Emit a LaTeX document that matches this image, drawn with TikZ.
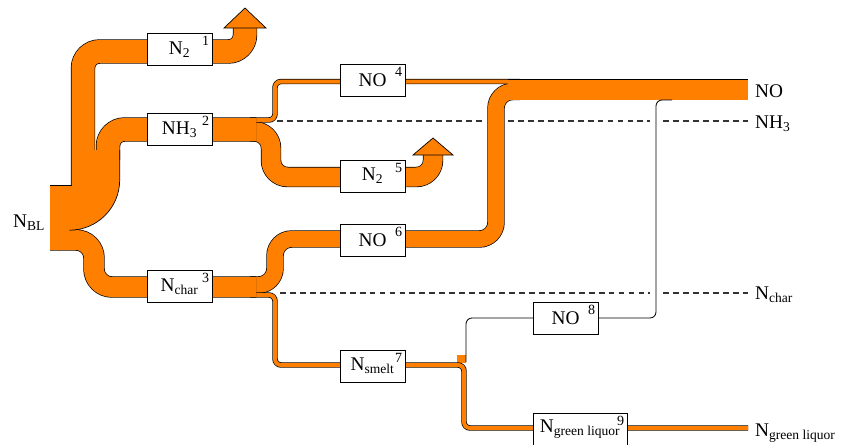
\documentclass[tikz,border=0pt]{standalone}
\usepackage{fontspec}
\setmainfont{Liberation Serif}
\setsansfont{Liberation Serif}
\definecolor{flow}{RGB}{255,128,0}

\begin{document}
\begin{tikzpicture}
        [x=0.03cm, y=-0.03cm,
        box/.style={draw, fill=white, line width=0.5pt, minimum width=1.95cm, minimum height=0.96cm, inner sep=1pt, font=\rmfamily\fontsize{16.5}{18}\selectfont},
        num/.style={font=\rmfamily\fontsize{12}{13}\selectfont, inner sep=2.5pt, anchor=north east},
        band/.style={draw=black, line width=0.6pt, double=flow, double distance=#1, rounded corners=0.5cm},
        flowline/.style={draw=black, line width=0.7pt, rounded corners=0.18cm},
        refline/.style={dash pattern=on 5pt off 3.5pt, draw=black!80, line width=1pt},
        endlab/.style={anchor=base west, inner sep=0pt, font=\rmfamily\fontsize{16.5}{18}\selectfont},
        outtri/.style={draw=black, fill=flow, line width=0.6pt}]

        \useasboundingbox (0,0) rectangle (847,444);

        % NO 6 and N smelt leave N char
        \draw[band=0.48cm] (250,285) -- (275,285) -- (275,239) -- (496,239) -- (496,91.5) -- (520,91.5);
        \fill[flow] (457,355) rectangle (466,363);
        \draw[band=0.12cm, rounded corners=0.18cm] (250,295) -- (275,295) -- (275,365) -- (464,365) -- (464,428) -- (748,428);
        \draw[band=0.6cm, rounded corners=0.54cm] (50,240) -- (94,240) -- (94,287) -- (256,287);

        % NO 4 and N2 5 leave NH3
        \draw[band=0.57cm] (250,131.5) -- (271,131.5) -- (271,177) -- (433,177) -- (433,155);
        \draw[band=0.12cm, rounded corners=0.18cm] (250,120) -- (275,120) -- (275,81.5) -- (520,81.5);
        \draw[band=0.69cm] (108,160) -- (108,129.5) -- (256,129.5);

        % N2 1
        \draw[band=0.69cm] (83,186) -- (83,51.5) -- (245,51.5) -- (245,28);

        % N_BL inlet
        \fill[flow] (50,185) -- (72,185) -- (72,150) -- (119.5,150) -- (119.5,180)
            arc[start angle=0, end angle=90, radius=50] -- (69.5,231) -- (50,231) -- cycle;
        \draw[line width=0.6pt] (50,185) -- (72,185);
        \draw[line width=0.6pt] (119.7,150) -- (119.7,180) arc[start angle=0, end angle=90, radius=50.2];

        % NO out
        \draw[band=0.6cm] (508,89.5) -- (748,89.5);
        \draw[flowline] (466,362) -- (466,318) -- (656,318) -- (656,100) -- (672,100);

        % reference levels
        \draw[refline] (277,121) -- (482,121);
        \draw[refline] (508,121) -- (650,121);
        \draw[refline] (663,121) -- (748,121);
        \draw[refline] (280,293) -- (650,293);
        \draw[refline] (663,293) -- (748,293);

        % N2 released
        \draw[outtri] (224,28) -- (266,28) -- (245,8) -- cycle;
        \draw[outtri] (413,155) -- (453,155) -- (433,138) -- cycle;

        \node[box, label={[num]north east:1}] (b1) at (179.5,49.5) {N\textsubscript{2}};
        \node[box, label={[num]north east:2}] (b2) at (179.5,129.5) {NH\textsubscript{3}};
        \node[box, label={[num]north east:3}] (b3) at (179.5,286.5) {N\textsubscript{char}};
        \node[box, label={[num]north east:4}] (b4) at (372.5,80.5) {NO};
        \node[box, label={[num]north east:5}] (b5) at (372.5,176) {N\textsubscript{2}};
        \node[box, label={[num]north east:6}] (b6) at (372.5,240) {NO};
        \node[box, label={[num]north east:7}] (b7) at (372.5,366) {N\textsubscript{smelt}};
        \node[box, label={[num]north east:8}] (b8) at (565.5,318.5) {NO};
        \node[box, minimum width=2.82cm, label={[num]north east:9}] (b9) at (580,429.5) {N\textsubscript{green liquor}};

        \node[endlab] (lBL) at (13,227) {N\textsubscript{BL}};
        \node[endlab] (lNO) at (755,97) {NO};
        \node[endlab] (lNH) at (755,128) {NH\textsubscript{3}};
        \node[endlab] (lNc) at (755,299) {N\textsubscript{char}};
        \node[endlab] (lNg) at (755,436) {N\textsubscript{green liquor}};

    \end{tikzpicture}
\end{document}
